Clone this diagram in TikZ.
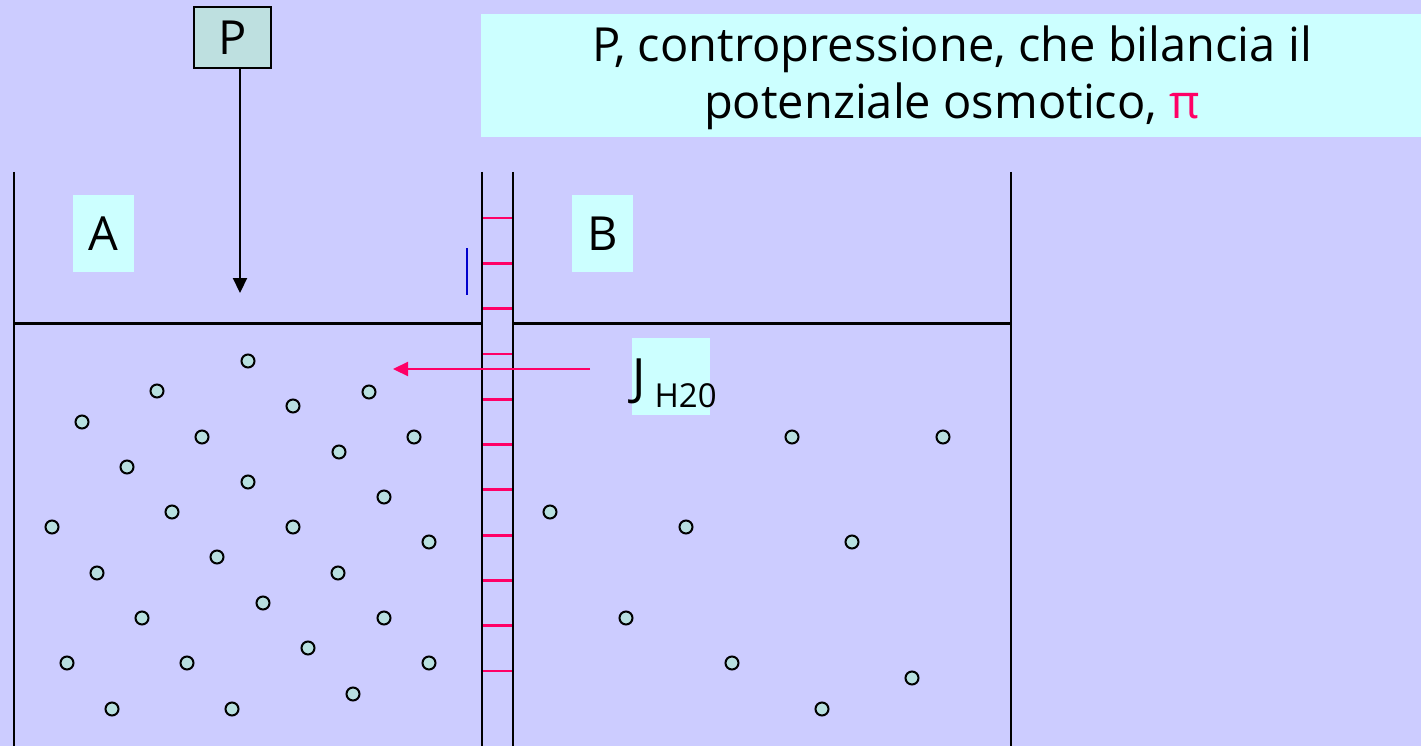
\documentclass[tikz,border=0pt]{standalone}
\usepackage{fontspec}
\setmainfont{Open Sans}
\usetikzlibrary{arrows.meta, positioning}

\definecolor{lavbg}{HTML}{CCCCFF}
\definecolor{cyanbox}{HTML}{CCFFFF}
\definecolor{tealbox}{HTML}{BEE0E0}
\definecolor{molfill}{HTML}{B8E0E0}
\definecolor{rose}{HTML}{FF0066}
\definecolor{deepblue}{HTML}{0000CC}

\begin{document}
\begin{tikzpicture}[x=1pt, y=-1pt,
        wall/.style={black, line width=2.4pt},
        rung/.style={rose, line width=2.8pt},
        tag/.style={fill=cyanbox, inner sep=0pt, font=\fontsize{47}{57}\selectfont},
        mol/.style={circle, draw=black, line width=2pt, fill=molfill,
                    minimum size=13pt, inner sep=0pt},
        arr/.style={-{Triangle[length=15pt,width=14pt]}, line width=2.2pt}]
      \useasboundingbox (0,0) rectangle (1421,746);
      \fill[lavbg] (0,0) rectangle (1421,746);

      % counter-pressure and title
      \node[draw=black, line width=2pt, fill=tealbox, minimum width=77pt, minimum height=61pt,
            inner sep=0pt, font=\fontsize{47}{47}\selectfont] (p) at (232.5,37.5) {P};
      \fill[cyanbox] (481,14) rectangle (1421,137);
      \node[tag, fill=none, align=center] (title) at (952,78)
           {P, contropressione, che bilancia il\\ potenziale osmotico, \textcolor{rose}{π}};
      \coordinate (pend) at (240,293);
      \draw[arr] (p.south -| pend) -- (pend);

      % vessels and membrane
      \draw[wall] (14,172) -- (14,746);
      \draw[wall] (482,172) -- (482,746);
      \draw[wall] (513,172) -- (513,746);
      \draw[wall] (1011,172) -- (1011,746);
      \draw[wall] (14,323.5) -- (482,323.5);
      \draw[wall] (513,323.5) -- (1011,323.5);
      \foreach \k in {0,...,10}
        \draw[rung] (483,218+45.3*\k) -- (512,218+45.3*\k);
      \draw[deepblue, line width=2.4pt] (467,248) -- (467,295);

      \node[tag, minimum width=61pt, minimum height=77pt] (a) at (103.5,233.5) {A};
      \node[tag, minimum width=61pt, minimum height=77pt] (b) at (602.5,233.5) {B};

      % water flux
      \fill[cyanbox] (632,338) rectangle (710,415);
      \node[inner sep=0pt, anchor=base west, font=\fontsize{50}{50}\selectfont] (jflux) at (632,394)
           {J\hspace{9pt}\raisebox{-13pt}{\fontsize{33}{33}\selectfont H20}};
      \coordinate (jstart) at (590,369);
      \coordinate (jend) at (393,369);
      \draw[arr, rose] (jstart) -- (jend);

      % solute in A
      \foreach \x/\y [count=\i] in {248/361, 157/391, 369/392, 82/422, 293/406, 202/437,
          339/452, 414/437, 127/467, 248/482, 384/497, 52/527, 172/512, 293/527,
          429/542, 97/573, 217/557, 338/573, 142/618, 263/603, 384/618, 67/663,
          187/663, 308/648, 429/663, 112/709, 232/709, 353/694}
        \node[mol] (ma\i) at (\x,\y) {};
      % solute in B
      \foreach \x/\y [count=\i] in {792/437, 943/437, 550/512, 686/527, 852/542,
          626/618, 732/663, 912/678, 822/709}
        \node[mol] (mb\i) at (\x,\y) {};
    \end{tikzpicture}
\end{document}
